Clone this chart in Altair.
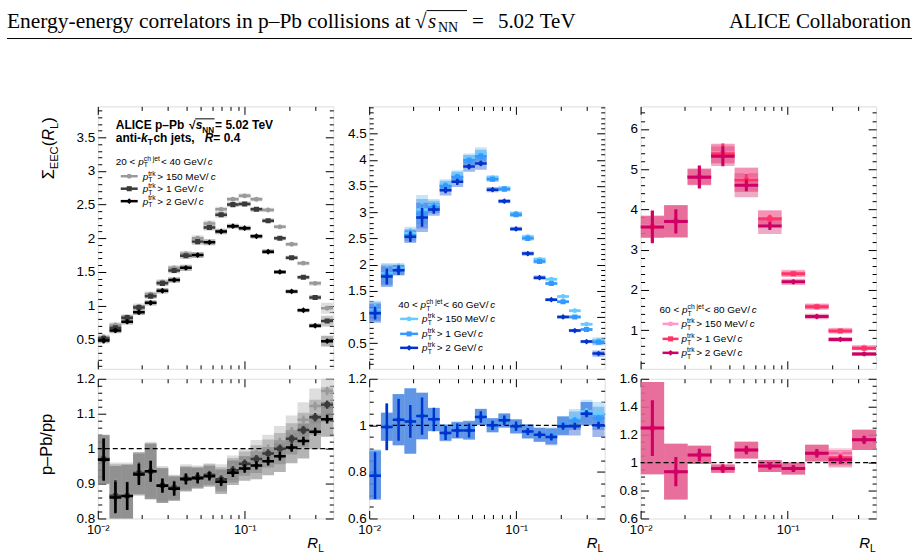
import altair as alt
import pandas as pd

SANS = "Liberation Sans"
SERIF = "Liberation Serif"

# ---------------------------------------------------------------- data
# R_L bin edges: 20 (fine) and 10 (coarse) logarithmic bins from 0.01 to 0.4
edges_fine = [0.01, 0.01202, 0.01445, 0.01737, 0.02088, 0.0251, 0.03017, 0.03627,
              0.0436, 0.05241, 0.063, 0.07573, 0.09103, 0.10942, 0.13153, 0.15811,
              0.19006, 0.22846, 0.27462, 0.33011, 0.4]
edges_coarse = [0.01, 0.01445, 0.02088, 0.03017, 0.0436, 0.063, 0.09103, 0.13153,
                0.19006, 0.27462, 0.4]

# 20 < pT(ch jet) < 40 GeV/c
eec_20_40_trk150 = [0.53, 0.71, 0.83, 0.99, 1.17, 1.35, 1.56, 1.77, 2.00, 2.22,
                    2.43, 2.58, 2.63, 2.58, 2.42, 2.17, 1.91, 1.63, 1.33, 0.96]
eec_20_40_trk1 = [0.51, 0.67, 0.82, 0.97, 1.14, 1.33, 1.52, 1.74, 1.95, 2.16,
                  2.35, 2.50, 2.51, 2.43, 2.26, 2.00, 1.71, 1.42, 1.12, 0.77]
eec_20_40_trk2 = [0.48, 0.63, 0.76, 0.90, 1.04, 1.22, 1.38, 1.56, 1.75, 1.94,
                  2.10, 2.18, 2.15, 2.03, 1.80, 1.50, 1.21, 0.93, 0.70, 0.47]
eec_20_40_stat = [0.04, 0.03, 0.03, 0.03, 0.03, 0.025, 0.025, 0.025, 0.025, 0.02,
                  0.02, 0.02, 0.02, 0.02, 0.02, 0.02, 0.02, 0.02, 0.02, 0.02]
eec_20_40_sys = [0.04, 0.04, 0.04, 0.04, 0.04, 0.04, 0.04, 0.045, 0.045, 0.045,
                 0.04, 0.035, 0.035, 0.035, 0.035, 0.03, 0.03, 0.03, 0.035, 0.08]
ratio_20_40_trk150 = [0.97, 0.87, 0.87, 0.93, 0.94, 0.90, 0.89, 0.92, 0.922, 0.928,
                      0.92, 0.945, 0.965, 0.985, 1.0, 1.02, 1.05, 1.083, 1.122, 1.165]
ratio_20_40_trk1 = [0.97, 0.865, 0.865, 0.93, 0.935, 0.895, 0.888, 0.915, 0.918, 0.925,
                    0.912, 0.938, 0.957, 0.970, 0.986, 1.0, 1.028, 1.053, 1.090, 1.126]
ratio_20_40_trk2 = [0.968, 0.860, 0.864, 0.926, 0.935, 0.894, 0.885, 0.912, 0.915, 0.921,
                    0.905, 0.931, 0.943, 0.952, 0.964, 0.978, 1.003, 1.022, 1.048, 1.084]
ratio_20_40_stat = [0.06, 0.045, 0.04, 0.03, 0.03, 0.02, 0.02, 0.015, 0.015, 0.012,
                    0.012, 0.012, 0.012, 0.012, 0.012, 0.012, 0.012, 0.012, 0.012, 0.012]
ratio_20_40_sys = [0.07, 0.09, 0.09, 0.06, 0.08, 0.05, 0.035, 0.035, 0.03, 0.03,
                   0.035, 0.035, 0.035, 0.04, 0.04, 0.045, 0.045, 0.05, 0.05, 0.05]

# 40 < pT(ch jet) < 60 GeV/c
eec_40_60_trk150 = [1.13, 1.83, 1.93, 2.60, 3.05, 3.13, 3.53, 3.70, 4.02, 4.12,
                    3.66, 3.46, 2.98, 2.53, 2.10, 1.72, 1.39, 1.12, 0.86, 0.55]
eec_40_60_trk1 = [1.10, 1.80, 1.90, 2.56, 2.97, 3.10, 3.50, 3.67, 3.99, 4.07,
                  3.63, 3.44, 2.95, 2.50, 2.06, 1.64, 1.29, 1.00, 0.76, 0.52]
eec_40_60_trk2 = [1.07, 1.77, 1.89, 2.53, 2.90, 3.05, 3.42, 3.58, 3.87, 3.93,
                  3.43, 3.21, 2.68, 2.21, 1.75, 1.33, 1.00, 0.74, 0.53, 0.30]
eec_40_60_stat = [0.12, 0.15, 0.09, 0.10, 0.18, 0.08, 0.06, 0.06, 0.05, 0.05,
                  0.03, 0.02, 0.02, 0.02, 0.02, 0.02, 0.02, 0.02, 0.02, 0.02]
eec_40_60_sys = [0.18, 0.20, 0.10, 0.12, 0.28, 0.12, 0.10, 0.10, 0.10, 0.12,
                 0.05, 0.04, 0.04, 0.04, 0.04, 0.03, 0.03, 0.03, 0.03, 0.06]
ratio_40_60_trk150 = [0.79, 0.995, 1.025, 1.02, 1.04, 1.025, 0.97, 0.98, 0.98, 1.035,
                      1.0, 1.02, 0.995, 0.975, 0.96, 0.955, 1.0, 1.03, 1.06, 1.05]
ratio_40_60_trk1 = [0.79, 0.995, 1.025, 1.02, 1.04, 1.025, 0.97, 0.98, 0.98, 1.035,
                    1.0, 1.02, 0.995, 0.975, 0.96, 0.955, 1.0, 1.02, 1.05, 1.03]
ratio_40_60_trk2 = [0.784, 0.993, 1.024, 1.017, 1.040, 1.026, 0.967, 0.978, 0.978, 1.036,
                    1.0, 1.022, 0.996, 0.974, 0.960, 0.950, 0.996, 0.996, 1.050, 1.0]
ratio_40_60_stat = [0.10, 0.10, 0.09, 0.07, 0.08, 0.05, 0.03, 0.03, 0.03, 0.025,
                    0.02, 0.02, 0.02, 0.015, 0.015, 0.015, 0.015, 0.015, 0.015, 0.015]
ratio_40_60_sys = [0.105, 0.06, 0.11, 0.14, 0.10, 0.05, 0.035, 0.035, 0.04, 0.035,
                   0.03, 0.03, 0.03, 0.03, 0.03, 0.035, 0.04, 0.04, 0.05, 0.05]

# 60 < pT(ch jet) < 80 GeV/c
eec_60_80_trk150 = [3.58, 3.71, 4.82, 5.40, 4.75, 3.78, 2.42, 1.60, 1.00, 0.58]
eec_60_80_trk1 = [3.57, 3.71, 4.81, 5.38, 4.73, 3.77, 2.40, 1.58, 0.98, 0.55]
eec_60_80_trk2 = [3.56, 3.70, 4.80, 5.32, 4.60, 3.59, 2.20, 1.34, 0.77, 0.41]
eec_60_80_stat = [0.40, 0.30, 0.28, 0.25, 0.15, 0.10, 0.05, 0.05, 0.04, 0.04]
eec_60_80_sys = [0.27, 0.40, 0.20, 0.24, 0.30, 0.20, 0.08, 0.07, 0.06, 0.05]
ratio_60_80_trk150 = [1.247, 0.935, 1.055, 0.957, 1.09, 0.976, 0.957, 1.067, 1.048, 1.163]
ratio_60_80_trk1 = [1.247, 0.935, 1.055, 0.957, 1.09, 0.976, 0.957, 1.067, 1.035, 1.163]
ratio_60_80_trk2 = [1.247, 0.935, 1.055, 0.957, 1.09, 0.976, 0.957, 1.067, 1.02, 1.163]
ratio_60_80_stat = [0.20, 0.105, 0.045, 0.03, 0.03, 0.025, 0.025, 0.03, 0.03, 0.03]
ratio_60_80_sys = [0.33, 0.20, 0.065, 0.03, 0.06, 0.043, 0.043, 0.06, 0.055, 0.073]

# ---------------------------------------------------------------- styles
GRAY = [dict(c="#9a9a9a", box="#c8c8c8", op=0.6, shape="circle", size=24),
        dict(c="#3a3a3a", box="#9a9a9a", op=0.55, shape="square", size=26),
        dict(c="#000000", box="#6a6a6a", op=0.5, shape="diamond", size=34)]
BLUE = [dict(c="#66ccff", box="#9fd4f7", op=0.6, shape="circle", size=24),
        dict(c="#3399ff", box="#5aa0ea", op=0.55, shape="square", size=26),
        dict(c="#0033cc", box="#2f62d8", op=0.45, shape="diamond", size=34)]
PINK = [dict(c="#ff99cc", box="#f7a6c9", op=0.6, shape="circle", size=24),
        dict(c="#ff3366", box="#f0628f", op=0.55, shape="square", size=26),
        dict(c="#cc0066", box="#d9457f", op=0.45, shape="diamond", size=34)]

W = 236
H_TOP = 263
H_BOT = 140
XS = alt.Scale(type="log", domain=[0.01, 0.4], nice=False)
X_MAJOR = [0.01, 0.1]
X_MINOR = [0.02, 0.03, 0.04, 0.05, 0.06, 0.07, 0.08, 0.09, 0.2, 0.3]
ONE = pd.DataFrame({"k": [0]})
NBSP = "\u00a0"

# Helvetica-metric advance widths (per 1000 em) for laying out rich text
_WN = {" ": 278, "(": 333, ")": 333, ",": 278, "-": 333, ".": 278, "/": 278,
       "<": 584, "=": 584, ">": 584, "A": 667, "C": 722, "E": 667, "G": 722,
       "I": 278, "L": 556, "M": 833, "N": 722, "P": 667, "R": 722, "T": 611,
       "V": 667, "a": 556, "b": 556, "c": 500, "e": 556, "h": 556, "i": 222,
       "j": 222, "k": 500, "l": 222, "n": 556, "o": 556, "p": 556, "r": 333,
       "s": 500, "t": 278, "\u2013": 556, "\u221a": 549, "\u03a3": 600}
_WB = {" ": 278, "(": 333, ")": 333, ",": 278, "-": 333, ".": 278, "/": 278,
       "<": 584, "=": 584, ">": 584, "A": 722, "C": 722, "E": 667, "I": 278,
       "L": 611, "N": 722, "P": 667, "R": 722, "T": 611, "V": 667, "a": 556,
       "b": 611, "c": 556, "e": 556, "h": 611, "i": 278, "j": 278, "k": 556,
       "n": 611, "o": 611, "p": 611, "s": 556, "t": 333, "\u2013": 556,
       "\u221a": 549}


def tw(s, size, bold=False):
    table = _WB if bold else _WN
    return sum(table.get(ch, 556) for ch in s) * size / 1000.0


def txt(t, x, y, size, dx=0, dy=0, bold=False, italic=False, color="black",
        angle=0, font=SANS, align="left"):
    # non-breaking spaces keep leading/trailing blanks from being collapsed
    return alt.Chart(ONE).mark_text(
        text=t.replace(" ", NBSP), align=align, baseline="alphabetic", dx=dx, dy=dy,
        fontSize=size, font=font, fontWeight="bold" if bold else "normal",
        fontStyle="italic" if italic else "normal", color=color, angle=angle,
    ).encode(x=alt.value(x), y=alt.value(y))


def rich(parts, x, y, size, bold=False, color="black", angle=0, font=SANS, small=0.68):
    """Lay out a run of text pieces with italics, sub- and superscripts."""
    layers, marks, cur = [], [], 0.0
    sub_dy, sup_dy = 0.27 * size, -0.42 * size
    for part in parts:
        kind = part[0]
        marks.append(cur)
        if kind == "stack":
            s2 = size * small
            w = 0.0
            if part[1]:
                layers.append(txt(part[1], x, y, s2, dx=cur, dy=sub_dy, bold=bold,
                                  color=color, angle=angle, font=font))
                w = max(w, tw(part[1], s2, bold))
            if part[2]:
                layers.append(txt(part[2], x, y, s2, dx=cur, dy=sup_dy, bold=bold,
                                  color=color, angle=angle, font=font))
                w = max(w, tw(part[2], s2, bold))
            cur += w
        elif kind == "gap":
            cur += part[1]
        else:
            t = part[1]
            sm = kind in ("sub", "sup")
            s = size * small if sm else size
            dy = sub_dy if kind == "sub" else (sup_dy if kind == "sup" else 0)
            layers.append(txt(t, x, y, s, dx=cur, dy=dy, bold=bold, italic=(kind == "i"),
                              color=color, angle=angle, font=font))
            cur += tw(t, s, bold)
    marks.append(cur)
    return layers, marks


def hline(x1, x2, y, color="black", width=1.0):
    return alt.Chart(ONE).mark_rule(color=color, strokeWidth=width).encode(
        x=alt.value(x1), x2=alt.value(x2), y=alt.value(y))


def legend_block(head, x_head, y_head, entries_y, x1, x2, x_text, style, fs=10):
    layers, _ = rich([("n", head[0]), ("i", "p"), ("stack", "T", "ch jet"), ("gap", 1.0),
                      ("n", head[1]), ("gap", -0.6), ("i", "c")], x_head, y_head, fs)
    labels = [" > 150 MeV/", " > 1 GeV/", " > 2 GeV/"]
    for yy, st, lab in zip(entries_y, style, labels):
        layers.append(hline(x1, x2, yy, st["c"], 2.5))
        layers.append(alt.Chart(ONE).mark_point(
            shape=st["shape"], filled=True, size=st["size"], color=st["c"], opacity=1
        ).encode(x=alt.value((x1 + x2) / 2), y=alt.value(yy)))
        t, _ = rich([("i", "p"), ("stack", "T", "trk"), ("gap", 1.6), ("n", lab),
                     ("gap", -0.6), ("i", "c")], x_text, yy + 3.5, fs)
        layers += t
    return layers


def table(edges, vals, stat, sys):
    rows = []
    for i, v in enumerate(vals):
        lo, hi = edges[i], edges[i + 1]
        rows.append(dict(lo=lo, hi=hi, c=(lo * hi) ** 0.5, v=v,
                         s1=v - stat[i], s2=v + stat[i], b1=v - sys[i], b2=v + sys[i]))
    return pd.DataFrame(rows)


def steps(lo, hi, step, skip):
    out, k = [], 0
    while True:
        val = round(lo + k * step, 4)
        if val > hi + 1e-9:
            break
        if all(abs(val - s) > 1e-6 for s in skip):
            out.append(val)
        k += 1
    return out


def axis_layers(df, ys, ymaj, ymin, xlabels):
    base = alt.Chart(df).mark_point(opacity=0)
    common = dict(domain=False, grid=False, tickColor="black", tickWidth=1, title=None)

    def xa(orient, values, size, labels):
        kw = dict(orient=orient, values=values, tickSize=alt.ExprRef(expr=str(-size)),
                  labels=labels, **common)
        if labels:
            kw.update(labelExpr="datum.value == 0.01 ? '10\u207b\u00b2' : "
                                "(datum.value == 0.1 ? '10\u207b\u00b9' : '')",
                      labelFont=SANS, labelFontSize=13, labelColor="black",
                      labelPadding=size + 5, labelFlush=False, labelOverlap=False)
        return alt.Axis(**kw)

    def ya(orient, values, size, labels):
        kw = dict(orient=orient, values=values, tickSize=alt.ExprRef(expr=str(-size)),
                  labels=labels, **common)
        if labels:
            kw.update(format="~g", labelFont=SANS, labelFontSize=13.5, labelColor="black",
                      labelPadding=size + 3, labelFlush=False, labelOverlap=False)
        return alt.Axis(**kw)

    out = []
    for xo, yo, lab in (("bottom", "left", True), ("top", "right", False)):
        out.append(base.encode(
            x=alt.X("c:Q", scale=XS, axis=xa(xo, X_MAJOR, 8, lab and xlabels)),
            y=alt.Y("v:Q", scale=ys, axis=ya(yo, ymaj, 8, lab))))
        out.append(base.encode(
            x=alt.X("c:Q", scale=XS, axis=xa(xo, X_MINOR, 4, False)),
            y=alt.Y("v:Q", scale=ys, axis=ya(yo, ymin, 4, False))))
    return out


def panel(edges, series, stat, sys, ydom, ymaj, ymin, height, styles, ratio, extras, lw=2.5):
    ys = alt.Scale(domain=ydom, nice=False, zero=False)
    tabs = [table(edges, s, stat, sys) for s in series]
    layers = []
    for t, st in zip(tabs, styles):
        layers.append(alt.Chart(t).mark_rect(color=st["box"], opacity=st["op"], clip=True).encode(
            x=alt.X("lo:Q", scale=XS, axis=None), x2="hi:Q",
            y=alt.Y("b1:Q", scale=ys, axis=None), y2="b2:Q"))
    if ratio:
        layers.append(alt.Chart(ONE).mark_rule(color="black", strokeDash=[5, 3], strokeWidth=1.2)
                      .encode(y=alt.Y(datum=1, scale=ys, axis=None)))
    for t, st in zip(tabs, styles):
        layers.append(alt.Chart(t).mark_rule(color=st["c"], strokeWidth=lw, clip=True).encode(
            x=alt.X("lo:Q", scale=XS, axis=None), x2="hi:Q",
            y=alt.Y("v:Q", scale=ys, axis=None)))
        layers.append(alt.Chart(t).mark_rule(color=st["c"], strokeWidth=lw, clip=True).encode(
            x=alt.X("c:Q", scale=XS, axis=None),
            y=alt.Y("s1:Q", scale=ys, axis=None), y2="s2:Q"))
        layers.append(alt.Chart(t).mark_point(shape=st["shape"], filled=True, size=st["size"],
                                              color=st["c"], opacity=1, clip=True).encode(
            x=alt.X("c:Q", scale=XS, axis=None), y=alt.Y("v:Q", scale=ys, axis=None)))
    layers += axis_layers(tabs[0], ys, ymaj, ymin, ratio)
    layers += extras
    return (alt.layer(*layers)
            .resolve_axis(x="independent", y="independent")
            .properties(width=W, height=height))


def rl_title(x):
    t, _ = rich([("i", "R"), ("sub", "L")], x, 170, 15)
    return t


# ---------------------------------------------------------------- annotations
# page frame: header line and running title
head = [alt.Chart(ONE).mark_rule(color="white", strokeWidth=1).encode(
    x=alt.value(-96.5), x2=alt.value(823), y=alt.value(-104.5))]
head.append(txt("Energy-energy correlators in p\u2013Pb collisions at", -91, -79, 21.5, font=SERIF))
head.append(txt("\u221a", 318, -79, 21, font=SERIF))
head.append(hline(329.5, 370, -96, "black", 1))
head.append(txt("s", 331, -79, 21, italic=True, font=SERIF))
head.append(txt("NN", 341, -74.5, 14, font=SERIF))
head.append(txt("=", 375, -79, 21, font=SERIF))
head.append(txt("5.02 TeV", 401, -79, 21, font=SERIF))
head.append(txt("ALICE Collaboration", 815, -79, 21, font=SERIF, align="right"))
head.append(hline(-91, 816, -68, "black", 1))

ann1, m1 = rich([("n", "ALICE p\u2013Pb "), ("gap", 1.5), ("n", "\u221a"), ("i", "s"),
                 ("sub", "NN"), ("gap", 1.0), ("n", " = 5.02 TeV")], 18, 23, 12, bold=True)
ann1.append(hline(18 + m1[3] - 0.5, 18 + m1[5] + 0.5, 23 - 10.5, "black", 1))
t, _ = rich([("n", "anti-"), ("i", "k"), ("sub", "T"), ("gap", 0.8), ("n", " ch jets,  "),
             ("i", "R"), ("n", " = 0.4")], 18, 35.5, 12, bold=True)
ann1 += t
ann1 += legend_block(("20 < ", " < 40 GeV/"), 18, 58.5, [70, 82.5, 95], 23, 40, 45, GRAY)
sig, _ = rich([("n", "\u03a3"), ("sub", "EEC"), ("n", "("), ("i", "R"), ("sub", "L"), ("n", ")")],
              -44, 73, 16.5, angle=270)
ann1 += sig

ann2 = legend_block(("40 < ", " < 60 GeV/"), 29, 202.5, [213, 228, 242], 31, 49, 53, BLUE)
ann3 = legend_block(("60 < ", " < 80 GeV/"), 19, 207.5, [218, 233, 247], 22, 38, 41, PINK)

rat_title, _ = rich([("n", "p\u2013Pb/pp")], -46, 96.5, 16.5, angle=270)

# ---------------------------------------------------------------- panels
p1t = panel(edges_fine, [eec_20_40_trk150, eec_20_40_trk1, eec_20_40_trk2],
            eec_20_40_stat, eec_20_40_sys, [0.06, 3.96],
            [0.5, 1, 1.5, 2, 2.5, 3, 3.5], steps(0.1, 3.9, 0.1, [0.5, 1, 1.5, 2, 2.5, 3, 3.5]),
            H_TOP, GRAY, False, head + ann1)
p2t = panel(edges_fine, [eec_40_60_trk150, eec_40_60_trk1, eec_40_60_trk2],
            eec_40_60_stat, eec_40_60_sys, [0.01, 5.02],
            [0.5, 1, 1.5, 2, 2.5, 3, 3.5, 4, 4.5],
            steps(0.1, 5.0, 0.1, [0.5, 1, 1.5, 2, 2.5, 3, 3.5, 4, 4.5]),
            H_TOP, BLUE, False, ann2)
p3t = panel(edges_coarse, [eec_60_80_trk150, eec_60_80_trk1, eec_60_80_trk2],
            eec_60_80_stat, eec_60_80_sys, [0.04, 6.56],
            [1, 2, 3, 4, 5, 6], steps(0.2, 6.4, 0.2, [1, 2, 3, 4, 5, 6]),
            H_TOP, PINK, False, ann3, lw=3)

p1b = panel(edges_fine, [ratio_20_40_trk150, ratio_20_40_trk1, ratio_20_40_trk2],
            ratio_20_40_stat, ratio_20_40_sys, [0.8, 1.2],
            [0.8, 0.9, 1, 1.1, 1.2], steps(0.82, 1.18, 0.02, [0.9, 1, 1.1]),
            H_BOT, GRAY, True, rat_title + rl_title(210))
p2b = panel(edges_fine, [ratio_40_60_trk150, ratio_40_60_trk1, ratio_40_60_trk2],
            ratio_40_60_stat, ratio_40_60_sys, [0.6, 1.2],
            [0.6, 0.8, 1, 1.2], steps(0.65, 1.15, 0.05, [0.8, 1]),
            H_BOT, BLUE, True, rl_title(218))
p3b = panel(edges_coarse, [ratio_60_80_trk150, ratio_60_80_trk1, ratio_60_80_trk2],
            ratio_60_80_stat, ratio_60_80_sys, [0.6, 1.6],
            [0.6, 0.8, 1, 1.2, 1.4, 1.6], steps(0.65, 1.55, 0.05, [0.8, 1, 1.2, 1.4]),
            H_BOT, PINK, True, rl_title(219), lw=3)

chart = (alt.concat(p1t, p2t, p3t, p1b, p2b, p3b, columns=3,
                    spacing={"row": 10, "column": 36}, bounds="flush")
         .properties(padding=0)
         .configure_view(stroke="black", strokeWidth=1)
         .configure(background="white"))

chart.save("out.html", embed_options={"renderer": "svg", "actions": False})
